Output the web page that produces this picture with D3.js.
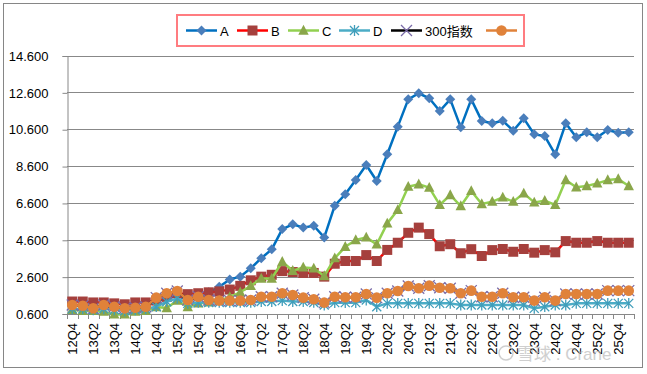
<!DOCTYPE html>
<html>
<head>
<meta charset="utf-8">
<script src="https://cdn.jsdelivr.net/npm/d3@7"></script>
<style>
  body { margin: 0; background: #fff; }
  svg { display: block; font-family: "Liberation Sans", "Noto Sans CJK SC", sans-serif; }
</style>
</head>
<body>
<div id="container"></div>
<script>
const w = 647
const h = 374

// categories (quarters)
const categories = ['12Q4','13Q1','13Q2','13Q3','13Q4','14Q1','14Q2','14Q3','14Q4','15Q1','15Q2','15Q3','15Q4',
  '16Q1','16Q2','16Q3','16Q4','17Q1','17Q2','17Q3','17Q4','18Q1','18Q2','18Q3','18Q4',
  '19Q1','19Q2','19Q3','19Q4','20Q1','20Q2','20Q3','20Q4','21Q1','21Q2','21Q3','21Q4',
  '22Q1','22Q2','22Q3','22Q4','23Q1','23Q2','23Q3','23Q4','24Q1','24Q2','24Q3','24Q4',
  '25Q1','25Q2','25Q3','25Q4','26Q1']

const seriesA = [1.05,1.0,0.95,1.0,0.9,0.85,0.95,1.0,1.25,1.45,1.55,1.35,1.4,1.75,2.05,2.45,2.6,
  3.05,3.6,4.08,5.18,5.44,5.26,5.36,4.73,
  6.45,7.07,7.84,8.66,7.79,9.24,10.74,12.22,
  12.55,12.28,11.59,12.22,10.7,12.22,11.05,10.92,
  11.06,10.52,11.19,10.32,10.23,9.24,10.92,10.16,
  10.43,10.16,10.56,10.41,10.43]
const seriesB = [1.25,1.25,1.2,1.2,1.15,1.1,1.2,1.2,1.3,1.5,1.7,1.65,1.7,1.75,1.8,1.9,2.1,
  2.4,2.6,2.7,2.9,2.85,2.8,2.8,2.6,
  3.3,3.45,3.45,3.77,3.45,4.05,4.44,4.98,
  5.26,4.91,4.25,4.36,3.87,4.09,3.72,4.04,
  4.1,3.95,4.1,3.9,4.04,3.92,4.53,4.44,
  4.44,4.53,4.44,4.44,4.44]
const seriesC = [0.8,0.75,0.75,0.7,0.55,0.55,0.7,0.75,0.95,0.9,1.3,0.95,1.15,1.2,1.3,1.5,1.75,
  2.1,2.5,2.5,3.41,2.92,3.1,3.05,2.63,
  3.6,4.22,4.59,4.73,4.35,5.49,6.22,7.48,
  7.61,7.43,6.49,7.03,6.43,7.25,6.54,6.67,
  6.9,6.67,7.12,6.63,6.72,6.49,7.84,7.45,
  7.52,7.66,7.84,7.9,7.52]
const seriesD = [0.85,0.85,0.8,0.85,0.8,0.75,0.8,0.85,0.97,1.24,1.42,1.15,1.2,1.2,1.2,1.2,1.2,
  1.2,1.25,1.25,1.3,1.25,1.25,1.2,1.06,
  1.19,1.19,1.19,1.33,0.97,1.15,1.15,1.15,
  1.15,1.15,1.15,1.15,1.06,1.06,1.06,1.06,
  1.06,1.06,1.06,0.88,0.97,1.06,1.06,1.15,
  1.15,1.15,1.15,1.15,1.15]
const seriesHS300 = [1.06,1.02,0.88,1.06,0.97,0.88,0.91,0.97,1.46,1.7,1.82,1.33,1.51,1.33,1.3,1.3,1.3,
  1.33,1.51,1.51,1.7,1.6,1.46,1.37,1.19,
  1.51,1.48,1.48,1.66,1.46,1.7,1.82,2.09,
  1.97,2.11,2.0,1.97,1.7,1.84,1.51,1.51,
  1.7,1.48,1.48,1.3,1.48,1.3,1.66,1.66,
  1.66,1.66,1.84,1.84,1.84]
const seriesE = [1.06,1.02,0.88,1.06,0.97,0.88,0.91,0.97,1.46,1.7,1.82,1.33,1.51,1.33,1.3,1.3,1.3,
  1.33,1.51,1.51,1.7,1.6,1.46,1.37,1.19,
  1.51,1.48,1.48,1.66,1.46,1.7,1.82,2.09,
  1.97,2.11,2.0,1.97,1.7,1.84,1.51,1.51,
  1.7,1.48,1.48,1.3,1.48,1.3,1.66,1.66,
  1.66,1.66,1.84,1.84,1.84]

const seriesNames = ['A', 'B', 'C', 'D', '300指数', '']
const yTickValues = [0.6, 2.6, 4.6, 6.6, 8.6, 10.6, 12.6, 14.6]

const series = [
  { name: seriesNames[0], values: seriesA, line: '#0070C0', mark: '#4A7EBB', shape: 'diamond' },
  { name: seriesNames[1], values: seriesB, line: '#FF0000', mark: '#A5403D', shape: 'square' },
  { name: seriesNames[2], values: seriesC, line: '#92D050', mark: '#8AA64A', shape: 'triangle' },
  { name: seriesNames[3], values: seriesD, line: '#4BACC6', mark: '#3F9DBA', shape: 'star' },
  { name: seriesNames[4], values: seriesHS300, line: '#000000', mark: '#7A6BA8', shape: 'x' },
  { name: seriesNames[5], values: seriesE, line: '#E0823A', mark: '#E0823A', shape: 'circle' }
]

const svg = d3.select('#container')
  .append('svg')
  .attr('width', w)
  .attr('height', h)

// chart outline
svg.append('rect')
  .attr('x', 3.5).attr('y', 3.5)
  .attr('width', 639).attr('height', 364)
  .attr('fill', '#fff')
  .attr('stroke', '#868686')

// Scales
const xScale = d3.scaleBand()
  .domain(categories)
  .range([67, 634])
const cx = d => xScale(d) + xScale.bandwidth() / 2
const yScale = d3.scaleLinear()
  .domain([0.6, 14.6])
  .range([313.5, 55.5])

// grid
svg.append('g')
  .selectAll('line')
  .data(yTickValues)
  .enter()
  .append('line')
  .attr('x1', 67).attr('x2', 634)
  .attr('y1', d => Math.round(yScale(d)) + 0.5)
  .attr('y2', d => Math.round(yScale(d)) + 0.5)
  .attr('stroke', '#888')

// Axis
const yAxis = d3.axisLeft(yScale)
  .tickValues(yTickValues)
  .tickFormat(d3.format('.3f'))
  .tickSize(5)
  .tickPadding(14)
const yG = svg.append('g')
  .attr('transform', 'translate(67.5, 0.5)')
  .call(yAxis)
yG.select('.domain').attr('stroke', '#888')
yG.selectAll('.tick line').attr('stroke', '#888')
yG.selectAll('text').attr('font-size', 13).attr('fill', '#000')
  .attr('font-family', '"Liberation Sans", sans-serif')

// x ticks at category boundaries
const bounds = categories.map(c => xScale(c)).concat([xScale.range()[1]])
svg.append('g')
  .selectAll('line')
  .data(bounds)
  .enter()
  .append('line')
  .attr('x1', d => Math.round(d) + 0.5).attr('x2', d => Math.round(d) + 0.5)
  .attr('y1', 314).attr('y2', 319)
  .attr('stroke', '#888')

svg.append('g')
  .selectAll('text')
  .data(categories.filter((c, i) => i % 2 === 0))
  .enter()
  .append('text')
  .attr('transform', d => `translate(${cx(d) + 4.5}, 323) rotate(-90)`)
  .attr('text-anchor', 'end')
  .attr('font-size', 13)
  .attr('fill', '#000')
  .text(d => d)

// marker shapes
function markerPath(shape, s) {
  switch (shape) {
    case 'diamond': return `M0,${-s}L${s},0L0,${s}L${-s},0Z`
    case 'square': return `M${-s},${-s}H${s}V${s}H${-s}Z`
    case 'triangle': return `M0,${-s * 1.1}L${s},${s * 0.8}L${-s},${s * 0.8}Z`
    case 'star': return `M${-s},${-s}L${s},${s}M${-s},${s}L${s},${-s}M0,${-s * 1.2}V${s * 1.2}`
    case 'x': return `M${-s},${-s}L${s},${s}M${-s},${s}L${s},${-s}`
    default: return ''
  }
}
const markSize = { diamond: 5, square: 5, triangle: 5.2, star: 4.5, x: 5.5, circle: 5.3 }

function drawMarker(g, s, x, y) {
  if (s.shape === 'circle') {
    g.append('circle').attr('cx', x).attr('cy', y).attr('r', markSize.circle).attr('fill', s.mark)
  } else if (s.shape === 'star' || s.shape === 'x') {
    g.append('path').attr('transform', `translate(${x},${y})`)
      .attr('d', markerPath(s.shape, markSize[s.shape]))
      .attr('fill', 'none').attr('stroke', s.mark).attr('stroke-width', 1.3)
  } else {
    g.append('path').attr('transform', `translate(${x},${y})`)
      .attr('d', markerPath(s.shape, markSize[s.shape]))
      .attr('fill', s.mark)
  }
}

// Lines + markers
const line = d3.line()
  .x((d, i) => cx(categories[i]))
  .y(d => yScale(d))

series.forEach(s => {
  const g = svg.append('g')
  g.append('path')
    .datum(s.values)
    .attr('d', line)
    .attr('fill', 'none')
    .attr('stroke', s.line)
    .attr('stroke-width', 2.5)
    .attr('stroke-linejoin', 'round')
  s.values.forEach((v, i) => drawMarker(g, s, cx(categories[i]), yScale(v)))
})

// Legend
const legend = svg.append('g')
legend.append('rect')
  .attr('x', 177).attr('y', 15)
  .attr('width', 347).attr('height', 31)
  .attr('fill', '#fff')
  .attr('stroke', '#FF7C80')
  .attr('stroke-width', 2)
const legendX = [186, 237, 288, 339, 391, 486]
series.forEach((s, i) => {
  const x0 = legendX[i]
  const yy = 30.5
  legend.append('line')
    .attr('x1', x0).attr('x2', x0 + 31)
    .attr('y1', yy).attr('y2', yy)
    .attr('stroke', s.line).attr('stroke-width', 2.5)
  drawMarker(legend, s, x0 + 15.5, yy)
  legend.append('text')
    .attr('x', x0 + 34).attr('y', yy + 5)
    .attr('font-size', 13)
    .attr('fill', '#000')
    .text(s.name)
})

// watermark
svg.append('text')
  .attr('x', 517).attr('y', 360)
  .attr('font-size', 17)
  .attr('fill', '#bbb')
  .attr('opacity', 0.7)
  .text('雪球 : Crane')
svg.append('circle')
  .attr('cx', 506).attr('cy', 353).attr('r', 7)
  .attr('fill', 'none').attr('stroke', '#bbb').attr('opacity', 0.7).attr('stroke-width', 1.5)
</script>
</body>
</html>
